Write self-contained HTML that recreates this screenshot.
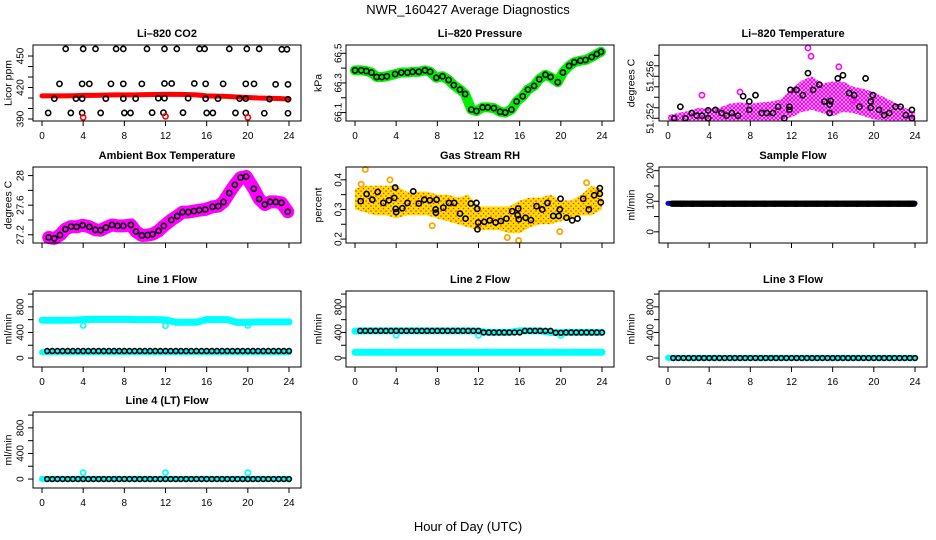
<!DOCTYPE html>
<html><head><meta charset="utf-8"><style>
html,body{margin:0;padding:0;background:#fff;}
svg{display:block;font-family:"Liberation Sans",sans-serif;}
</style></head><body>
<svg id="chart" width="936" height="540" viewBox="0 0 936 540">
<defs>
<pattern id="pinkDots" width="4" height="4" patternUnits="userSpaceOnUse"><circle cx="2" cy="2" r="1.5" fill="none" stroke="#ff00ff" stroke-width="1.3"/></pattern>
<pattern id="rhDots" width="5" height="5" patternUnits="userSpaceOnUse"><rect width="5" height="5" fill="#ffe000"/><circle cx="1" cy="1" r="0.8" fill="#ff2000"/><circle cx="3.5" cy="3.5" r="0.8" fill="#ff2000"/></pattern>
</defs>
<text x="468" y="14" text-anchor="middle" font-size="13">NWR_160427  Average Diagnostics</text>
<text x="468" y="531" text-anchor="middle" font-size="13">Hour of Day (UTC)</text>
</svg>
<script>
// ---- data ----
const hours = [0,1,2,3,4,5,6,7,8,9,10,11,12,13,14,15,16,17,18,19,20,21,22,23,24];
// CO2
const co2HiH = [2.3,4.0,5.2,7.2,7.9,10.2,11.9,13.1,15.3,15.8,18.2,19.9,21.1,23.3,23.8];
const co2HiV = [456.8,456.8,456.8,456.8,456.8,456.8,456.8,456.8,456.8,456.8,456.8,456.8,456.8,456.4,456.4];
const co2MidH = [1.7,3.9,4.6,6.7,7.9,9.7,11.9,12.6,14.8,15.9,17.6,19.8,20.6,22.7,23.9];
const co2MidV = [423.5,423.5,423.5,423.5,423.5,423.5,423.8,423.8,423.8,423.5,423.5,423.5,423.5,423,423];
const co2LowH = [1.2,3.3,3.9,6.2,7.9,9.1,11.3,11.9,14.2,15.9,17.1,19.2,19.8,22.1,23.9];
const co2LowV = [409.4,409.4,409.4,409.4,409.4,409.4,409.8,409.8,409.8,409.4,409.4,409.4,409.4,409,408.8];
const co2BotH = [0.6,2.8,3.9,5.7,8.0,8.6,10.7,11.8,13.7,16.0,16.6,18.8,19.8,21.6,23.9];
const co2BotV = [395.8,395.8,395.8,395.8,395.8,395.8,396,396,396,395.8,395.8,395.8,395.8,395.5,395.5];
const co2Red = [412,412,412,412.2,412.5,412.5,412.7,413,413,413,413.2,413.3,413.5,413.5,413.3,413,412,411.8,411.5,411,410.5,410,409.8,409.5,409];
const co2RedOutH = [4,12,20];
const co2RedOutV = [391.5,392.5,391.5];
// Pressure
const presH = [0,0.6,1.1,1.6,2.1,2.6,3.1,3.9,4.5,5.1,5.6,6.2,6.8,7.3,7.9,8.5,9.1,9.6,10.2,10.7,11.3,11.8,12.4,12.9,13.5,14.1,14.6,15.2,15.7,16.3,16.8,17.4,17.9,18.5,19.0,19.7,20.2,20.8,21.3,21.9,22.4,23.0,23.5,23.9];
const presV = [66.385,66.385,66.38,66.37,66.34,66.34,66.345,66.36,66.37,66.37,66.375,66.375,66.385,66.375,66.335,66.345,66.32,66.285,66.255,66.225,66.12,66.11,66.135,66.135,66.13,66.105,66.1,66.12,66.175,66.21,66.255,66.28,66.325,66.355,66.34,66.305,66.37,66.415,66.44,66.45,66.455,66.475,66.495,66.51];
// Li-820 temperature
const ltHi = [51.2523,51.2525,51.2527,51.2530,51.2529,51.2530,51.2534,51.2535,51.2534,51.2535,51.2536,51.2538,51.2548,51.2556,51.2560,51.2553,51.2555,51.2555,51.2550,51.2548,51.2545,51.2540,51.2535,51.2530,51.2526];
const ltLo = [51.2518,51.2518,51.2518,51.2518,51.2518,51.2518,51.2518,51.2518,51.2518,51.2518,51.2518,51.2518,51.2521,51.2526,51.2528,51.2525,51.2522,51.2526,51.2525,51.2522,51.2519,51.2518,51.2518,51.2518,51.2518];
const ltPinkOutH = [13.6,13.9,16.6,3.3,7.0,18.0];
const ltPinkOutV = [51.2587,51.2579,51.2569,51.2542,51.2545,51.2537];
const ltBlkH = [0.6,1.2,1.7,2.3,2.8,3.3,3.9,3.9,4.6,5.2,5.7,6.2,6.8,7.3,7.9,7.9,8.5,9.1,9.6,10.2,10.7,11.3,11.8,11.8,11.9,12.5,13.1,13.6,14.1,14.7,15.2,15.7,15.8,15.7,16.5,17.0,17.6,18.1,18.6,19.2,19.7,19.7,19.9,20.5,21.0,21.5,22.1,22.6,23.1,23.7,23.7];
const ltBlkV = [51.2520,51.2531,51.2520,51.2525,51.25225,51.25225,51.25275,51.2520,51.2528,51.2525,51.25225,51.2525,51.25225,51.2541,51.2536,51.2528,51.2542,51.2525,51.2525,51.2525,51.2531,51.2520,51.2531,51.2528,51.2547,51.2547,51.2542,51.2563,51.2547,51.2552,51.2536,51.2533,51.25365,51.2525,51.2558,51.2561,51.2544,51.2542,51.2531,51.2558,51.2536,51.2530,51.2542,51.2528,51.2523,51.2525,51.2531,51.2531,51.2523,51.2528,51.2520];
// Ambient box temperature
const ambH = [0.65,1.2,1.75,2.27,2.82,3.37,3.95,4.6,5.18,5.7,6.21,6.8,7.35,7.9,8.64,9.13,9.71,10.26,10.74,11.33,11.84,12.56,13.14,13.66,14.21,14.76,15.28,15.86,16.57,17.12,17.64,18.19,18.74,19.29,19.84,20.58,21.1,21.65,22.17,22.72,23.27,23.88];
const ambV = [27.164,27.151,27.196,27.276,27.311,27.307,27.329,27.307,27.267,27.262,27.298,27.333,27.32,27.32,27.333,27.244,27.191,27.196,27.209,27.253,27.32,27.4,27.453,27.507,27.507,27.52,27.533,27.542,27.578,27.587,27.644,27.764,27.876,27.973,27.987,27.822,27.684,27.609,27.644,27.644,27.631,27.511];
// Gas stream RH
const rhHi = [0.37,0.38,0.38,0.38,0.38,0.36,0.36,0.36,0.35,0.35,0.34,0.35,0.31,0.31,0.31,0.31,0.33,0.34,0.34,0.35,0.33,0.33,0.35,0.38,0.37];
const rhLo = [0.30,0.29,0.28,0.28,0.27,0.28,0.28,0.28,0.27,0.26,0.25,0.24,0.23,0.23,0.23,0.22,0.22,0.24,0.25,0.25,0.26,0.27,0.28,0.28,0.30];
const rhOutH = [1.0,3.4,7.5,14.8,15.9,19.9,22.5,0.6];
const rhOutV = [0.435,0.40,0.245,0.205,0.195,0.225,0.39,0.385];
const rhBlkH = [0.55,1.13,1.68,2.2,2.75,3.3,3.82,3.9,3.95,4.0,4.6,5.1,5.66,6.2,6.73,7.28,7.83,7.86,7.93,8.58,9.13,9.64,10.2,10.74,11.26,11.8,11.88,11.9,11.97,12.56,13.1,13.66,14.17,14.72,15.27,15.8,15.86,15.92,16.57,17.09,17.64,18.19,18.7,19.26,19.8,19.9,19.97,20.55,21.1,21.62,22.17,22.72,23.24,23.79,23.79,23.88];
const rhBlkV = [0.328,0.352,0.333,0.359,0.322,0.331,0.339,0.374,0.302,0.291,0.304,0.322,0.361,0.32,0.333,0.331,0.3,0.289,0.333,0.306,0.322,0.322,0.286,0.269,0.32,0.322,0.302,0.233,0.256,0.258,0.263,0.256,0.261,0.269,0.294,0.281,0.303,0.267,0.272,0.264,0.311,0.3,0.322,0.278,0.278,0.3,0.336,0.272,0.263,0.269,0.336,0.3,0.348,0.353,0.372,0.324];
// Sample flow
const sampleBlue = [93,93,93,93,93,93,93,93,93,93,93,93,93,93,93,93,93,93,93,93,93,93,93,93,93];
const sampleBlack = [92,92,92,92,92,92,92,92,92,92,92,92,92,92,92,92,92,92,92,92,92,92,92,92];
// Line flows
const l1Cyan = [590,590,590,590,600,605,605,605,605,600,600,600,595,560,560,560,600,600,600,555,560,565,565,565,565];
const l1CyanLow = [90,90,90,90,90,90,90,90,90,90,90,90,90,90,90,90,90,90,90,90,90,90,90,90,90];
const l1Black = [110,110,110,110,110,110,110,110,110,110,110,110,110,110,110,110,110,110,110,110,110,110,110,110];
const l1DipH = [4,12,20];
const l1DipV = [510,505,510];
const l2Cyan = [420,425,425,425,425,425,425,425,425,425,425,425,420,400,400,400,425,425,425,400,395,400,400,400,400];
const l2CyanLow = [90,90,90,90,90,90,90,90,90,90,90,90,90,90,90,90,90,90,90,90,90,90,90,90,90];
const l2Black = [425,425,425,425,425,425,425,425,425,425,425,425,400,400,400,400,425,425,425,395,400,400,400,400];
const l2DipH = [4,12,20];
const l2DipV = [355,355,355];
const l3Cyan = [2,2,2,2,2,2,2,2,2,2,2,2,2,2,2,2,2,2,2,2,2,2,2,2,2];
const l3Black = [0,0,0,0,0,0,0,0,0,0,0,0,0,0,0,0,0,0,0,0,0,0,0,0];
const l4Cyan = [2,2,2,2,2,2,2,2,2,2,2,2,2,2,2,2,2,2,2,2,2,2,2,2,2];
const l4Black = [0,0,0,0,0,0,0,0,0,0,0,0,0,0,0,0,0,0,0,0,0,0,0,0];
const l4OutH = [4,12,20];
const l4OutV = [100,100,100];
const xTicks = [0,4,8,12,16,20,24];

// ---- drawing ----
const svg = document.getElementById('chart');
const NS = 'http://www.w3.org/2000/svg';
const colLeft = [33, 346, 659], colW = 268;
const rowTop = [45, 167, 291, 412], rowH = 76;
const labOff = [13, 8, 9], ylabOff = [25, 28, 28];
function el(tag, attrs, parent) {
  const e = document.createElementNS(NS, tag);
  for (const k in attrs) e.setAttribute(k, attrs[k]);
  (parent || svg).appendChild(e);
  return e;
}
function panel(name, col, row, title, ylab, dmin, dmax, yt, ylabels, showX) {
  const g = el('g', {});
  
  
  const L = colLeft[col], T = rowTop[row], B = T + rowH, R = L + colW;
  const sx = h => L + 9 + h * (247 / 24);
  const sy = v => B - (v - dmin) / (dmax - dmin) * rowH;
  const t = el('text', {x: (L + R) / 2, y: T - 8, 'text-anchor': 'middle', 'font-size': 11, 'font-weight': 'bold'}, g);
  t.textContent = title;
  
  
  const plot = el('g', {}, g);
  
  
  const box = el('rect', {x: L, y: T, width: colW, height: rowH, fill: 'none', stroke: '#000', 'stroke-width': 1}, g);
  
  
  yt.forEach(v => { el('line', {x1: L - 5, x2: L, y1: sy(v), y2: sy(v), stroke: '#000'}, g); });
  ylabels.forEach(v => {
    const y = sy(v), x = L - labOff[col];
    const tx = el('text', {x: x, y: y, transform: `rotate(-90 ${x} ${y})`, 'text-anchor': 'middle', 'font-size': 10, dy: '0.35em'}, g);
    tx.textContent = String(v);
    
    
  });
  const yx = L - ylabOff[col], yy = (T + B) / 2;
  const yl = el('text', {x: yx, y: yy, transform: `rotate(-90 ${yx} ${yy})`, 'text-anchor': 'middle', 'font-size': 10.5, dy: '0.35em'}, g);
  yl.textContent = ylab;
  
  
  xTicks.forEach(h => {
    el('line', {x1: sx(h), x2: sx(h), y1: B, y2: B + 5, stroke: '#000'}, g);
    if (showX) {
      const tx = el('text', {x: sx(h), y: B + 18, 'text-anchor': 'middle', 'font-size': 10}, g);
      tx.textContent = h;
      
      
    }
  });
  return {g: plot, sx, sy};
}
function ring(p, x, y, color, r, sw) {
  const c = el('circle', {cx: x, cy: y, r: r || 2.6, fill: 'none', stroke: color, 'stroke-width': sw || 1.6}, p.g);
  
  
}
function pts(p, hs, vs, color, r, sw) { hs.forEach((h, i) => ring(p, p.sx(h), p.sy(vs[i]), color, r, sw)); }
function line(p, hs, vs, color, w, nm) {
  const pl = el('polyline', {points: hs.map((h, i) => p.sx(h) + ',' + p.sy(vs[i])).join(' '), fill: 'none', stroke: color, 'stroke-width': w, 'stroke-linejoin': 'round', 'stroke-linecap': 'round'}, p.g);
  
  
}
function band(p, hs, lo, hi, fill, nm) {
  const a = hs.map((h, i) => p.sx(h) + ',' + p.sy(hi[i]));
  const b = hs.map((h, i) => p.sx(h) + ',' + p.sy(lo[i])).reverse();
  const pg = el('polygon', {points: a.concat(b).join(' '), fill: fill}, p.g);
  
  
}
function hourlyRings(p, vals, step, start, color) {
  vals.forEach((v, i) => { for (let k = 0; k < 1; k += step) { const h = i + k + start; if (h <= 24) ring(p, p.sx(h), p.sy(v), color, 2.4, 1.6); } });
}

// CO2
let p = panel('co2', 0, 0, 'Li\u2013820 CO2', 'Licor ppm', 388.1, 460.5, [390,400,410,420,430,440,450], [390,420,450], true);
line(p, hours, co2Red, '#ff0000', 5, 'co2-red-series');
pts(p, co2HiH, co2HiV, '#000'); pts(p, co2MidH, co2MidV, '#000'); pts(p, co2LowH, co2LowV, '#000'); pts(p, co2BotH, co2BotV, '#000');
pts(p, co2RedOutH, co2RedOutV, '#ff0000');
// Pressure
p = panel('pressure', 1, 0, 'Li\u2013820 Pressure', 'kPa', 66.043, 66.556, [66.1,66.2,66.3,66.4,66.5], [66.1,66.3,66.5], true);
line(p, presH, presV, '#00ee00', 10, 'pressure-green-series');
pts(p, presH, presV, '#000');
// Li temp
p = panel('li-temp', 2, 0, 'Li\u2013820 Temperature', 'degrees C', 51.25174, 51.25898, [51.252,51.253,51.254,51.255,51.256,51.257,51.258], [51.252,51.256], true);
band(p, hours, ltLo, ltHi, 'url(#pinkDots)', 'li-temp-pink-cloud');
pts(p, ltPinkOutH, ltPinkOutV, '#ff00ff');
pts(p, ltBlkH, ltBlkV, '#000');
// Ambient
p = panel('ambient', 0, 1, 'Ambient Box Temperature', 'degrees C', 27.089, 28.116, [27.2,27.4,27.6,27.8,28.0], [27.2,27.6,28.0], false);
line(p, ambH, ambV, '#ff00ff', 13, 'ambient-magenta-series');
pts(p, ambH, ambV, '#000');
// RH
p = panel('rh', 1, 1, 'Gas Stream RH', 'percent', 0.1867, 0.4433, [0.2,0.25,0.3,0.35,0.4], [0.2,0.3,0.4], false);
band(p, hours, rhLo, rhHi, 'url(#rhDots)', 'rh-cloud');
pts(p, rhOutH, rhOutV, '#ffa500', 2.6, 1.8);
pts(p, rhBlkH, rhBlkV, '#000');
// Sample flow
p = panel('sample-flow', 2, 1, 'Sample Flow', 'ml/min', -36.5, 212, [0,50,100,150,200], [0,100,200], false);
line(p, hours, sampleBlue, '#0000ff', 5, 'sample-blue-series');
hourlyRings(p, sampleBlack, 1/6, 0.4, '#000');
// Line 1
p = panel('line1', 0, 2, 'Line 1 Flow', 'ml/min', -140, 1048, [0,200,400,600,800,1000], [0,400,800], true);
line(p, hours, l1Cyan, '#00ffff', 7, 'line1-cyan-series');
line(p, hours, l1CyanLow, '#00ffff', 6, 'line1-cyan-low-series');
pts(p, l1DipH, l1DipV, '#00ffff');
hourlyRings(p, l1Black, 0.5, 0.5, '#000');
// Line 2
p = panel('line2', 1, 2, 'Line 2 Flow', 'ml/min', -140, 1048, [0,200,400,600,800,1000], [0,400,800], true);
line(p, hours, l2Cyan, '#00ffff', 7, 'line2-cyan-series');
line(p, hours, l2CyanLow, '#00ffff', 7, 'line2-cyan-low-series');
pts(p, l2DipH, l2DipV, '#00ffff');
hourlyRings(p, l2Black, 0.5, 0.5, '#000');
// Line 3
p = panel('line3', 2, 2, 'Line 3 Flow', 'ml/min', -140, 1048, [0,200,400,600,800,1000], [0,400,800], true);
line(p, hours, l3Cyan, '#00ffff', 6, 'line3-cyan-series');
hourlyRings(p, l3Black, 0.5, 0.5, '#000');
// Line 4
p = panel('line4', 0, 3, 'Line 4 (LT) Flow', 'ml/min', -140, 1048, [0,200,400,600,800,1000], [0,400,800], true);
line(p, hours, l4Cyan, '#00ffff', 6, 'line4-cyan-series');
pts(p, l4OutH, l4OutV, '#00ffff');
hourlyRings(p, l4Black, 0.5, 0.5, '#000');
</script>
</body></html>
